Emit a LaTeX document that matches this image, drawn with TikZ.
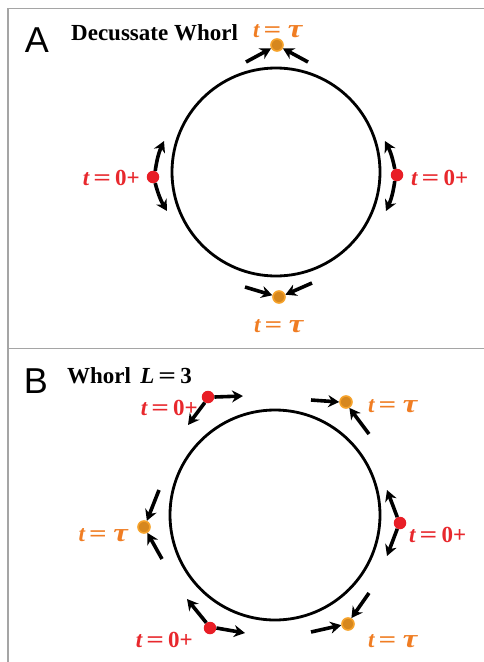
\documentclass[tikz,border=0pt]{standalone}
\usepackage{fontspec}
\setmainfont{Liberation Serif}
\newfontfamily\panelfont{Liberation Sans}
\usetikzlibrary{arrows.meta}
\definecolor{dotred}{RGB}{232,30,38}
\definecolor{labred}{RGB}{232,40,45}
\definecolor{labora}{RGB}{240,125,35}
\definecolor{dotora}{RGB}{214,135,30}
\definecolor{dotring}{RGB}{246,162,42}
\definecolor{framegray}{RGB}{165,165,165}
\newcommand\eqgap{\hspace{0.18em}}
\newcommand\wideeq{\scalebox{1.35}[1]{=}}
\newcommand\labzero{{\itshape t}\eqgap\wideeq\eqgap0+}
\newcommand\labtau{{\itshape t}\eqgap\wideeq\hspace{0.28em}{\fontsize{26}{26}\selectfont\itshape\scalebox{1.25}[1]{τ}}}
\tikzset{
  redot/.style={circle, fill=dotred, inner sep=0pt, minimum size=12.5pt},
  oradot/.style={circle, fill=dotora, draw=dotring, line width=1.6pt, inner sep=0pt, minimum size=12pt},
  movearrow/.style={line width=3.6pt, -{Stealth[length=11pt,width=12pt]}, black},
  redlab/.style={text=labred, font=\fontsize{23}{23}\selectfont\bfseries, inner sep=0pt},
  oralab/.style={text=labora, font=\fontsize{23}{23}\selectfont\bfseries, inner sep=0pt},
  ringline/.style={line width=2.8pt, draw=black},
  framestyle/.style={draw=framegray, line width=1.3pt},
  panelletter/.style={font=\fontsize{36}{36}\selectfont\panelfont, inner sep=0pt},
  paneltitle/.style={font=\fontsize{23}{23}\selectfont\bfseries, inner sep=0pt}
}
\begin{document}
\begin{tikzpicture}[x=1pt, y=-1pt]
\useasboundingbox (0,0) rectangle (484,662);
\fill[white] (0,0) rectangle (484,662);
% frame
\coordinate (fTL) at (8,8.5);
\coordinate (fTR) at (484,8.5);
\coordinate (fBL) at (8,662);
\coordinate (fML) at (8,348.5);
\coordinate (fMR) at (484,348.5);
\draw[framestyle] (fTR) -- (fTL) -- (fBL);
\draw[framestyle] (fML) -- (fMR);

% ---------------- Panel A ----------------
\node[panelletter] (letA) at (37,40) {A};
\node[paneltitle, anchor=base west] (titA) at (71,40) {Decussate Whorl};
\draw[ringline] (276,172) circle[radius=104];

% top
\node[oradot] (aT) at (277,45) {};
\node[oralab, anchor=base west] (aTl) at (253,37) {\labtau};
\coordinate (aT1) at (246,62);
\coordinate (aT2) at (308,62);
\draw[movearrow] (aT1) -- (aT.210);
\draw[movearrow] (aT2) -- (aT.330);

% left
\node[redot] (aL) at (153,177) {};
\node[redlab, anchor=base east] (aLl) at (140,185) {\labzero};
\coordinate (aL1) at (164,141);
\coordinate (aL2) at (167,211);
\draw[movearrow] (aL.70) to[bend left=8] (aL1);
\draw[movearrow] (aL.290) to[bend right=8] (aL2);

% right
\node[redot] (aR) at (397,175) {};
\node[redlab, anchor=base west] (aRl) at (411,185) {\labzero};
\coordinate (aR1) at (385,141);
\coordinate (aR2) at (386,211);
\draw[movearrow] (aR.110) to[bend right=8] (aR1);
\draw[movearrow] (aR.250) to[bend left=8] (aR2);

% bottom
\node[oradot] (aB) at (279,297) {};
\node[oralab, anchor=base west] (aBl) at (254,332) {\labtau};
\coordinate (aB1) at (245,287);
\coordinate (aB2) at (312,283);
\draw[movearrow] (aB1) -- (aB.165);
\draw[movearrow] (aB2) -- (aB.20);

% ---------------- Panel B ----------------
\node[panelletter] (letB) at (36,381) {B};
\node[paneltitle, anchor=base west] (titB) at (67,383) {Whorl\hspace{0.4em}{\itshape L}\eqgap\wideeq\eqgap3};
\draw[ringline] (275,515) circle[radius=105];

% top-left (red)
\node[redot] (bTL) at (208,397) {};
\node[redlab, anchor=base east] (bTLl) at (198,415) {\labzero};
\coordinate (bTL1) at (243,396);
\coordinate (bTL2) at (188,425);
\draw[movearrow] (bTL.east) -- (bTL1);
\draw[movearrow] (bTL.240) -- (bTL2);

% top-right (orange)
\node[oradot] (bTR) at (346,402) {};
\node[oralab, anchor=base west] (bTRl) at (368,412) {\labtau};
\coordinate (bTR1) at (311,400);
\coordinate (bTR2) at (369,434);
\draw[movearrow] (bTR1) -- (bTR.west);
\draw[movearrow] (bTR2) -- (bTR.300);

% right (red)
\node[redot] (bR) at (400,523) {};
\node[redlab, anchor=base west] (bRl) at (409,542) {\labzero};
\coordinate (bR1) at (387,490);
\coordinate (bR2) at (387,556);
\draw[movearrow] (bR.115) -- (bR1);
\draw[movearrow] (bR.245) -- (bR2);

% left (orange)
\node[oradot] (bL) at (144,527) {};
\node[oralab, anchor=base east] (bLl) at (128,541) {\labtau};
\coordinate (bL1) at (159,490);
\coordinate (bL2) at (162,559);
\draw[movearrow] (bL1) -- (bL.65);
\draw[movearrow] (bL2) -- (bL.300);

% bottom-left (red)
\node[redot] (bBL) at (210,628) {};
\node[redlab, anchor=base east] (bBLl) at (193,647) {\labzero};
\coordinate (bBL1) at (187,599);
\coordinate (bBL2) at (245,633);
\draw[movearrow] (bBL.125) -- (bBL1);
\draw[movearrow] (bBL.east) -- (bBL2);

% bottom-right (orange)
\node[oradot] (bBR) at (348,624) {};
\node[oralab, anchor=base west] (bBRl) at (368,647) {\labtau};
\coordinate (bBR1) at (311,632);
\coordinate (bBR2) at (369,593);
\draw[movearrow] (bBR1) -- (bBR.190);
\draw[movearrow] (bBR2) -- (bBR.60);
\end{tikzpicture}
\end{document}
